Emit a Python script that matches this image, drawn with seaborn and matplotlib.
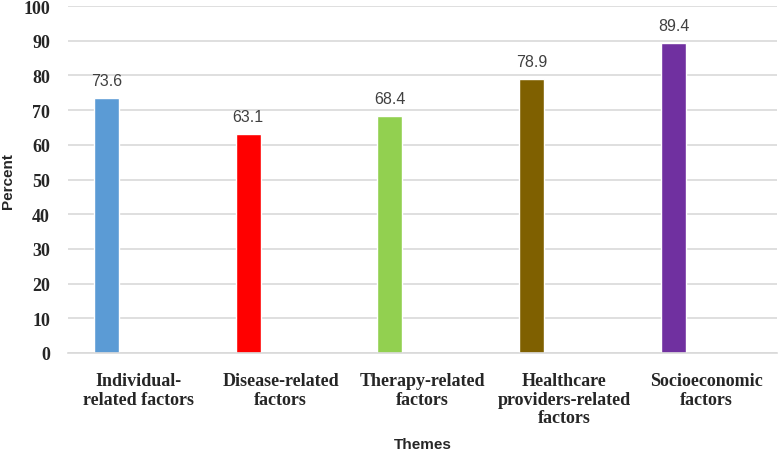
import numpy as np
import pandas as pd
import matplotlib
matplotlib.use("Agg")
import matplotlib.pyplot as plt
import seaborn as sns

categories = ["Individual-\nrelated factors", "Disease-related\nfactors", "Therapy-related\nfactors",
              "Healthcare\nproviders-related\nfactors", "Socioeconomic\nfactors"]
values = [73.6, 63.1, 68.4, 78.9, 89.4]
colors = ["#5B9BD5", "#FF0000", "#92D050", "#7F6000", "#7030A0"]
yticks = [0, 10, 20, 30, 40, 50, 60, 70, 80, 90, 100]

sns.set_theme(style="white")
fig = plt.figure(figsize=(7.78, 4.52), dpi=100)
ax = fig.add_axes([68/778, 1-354/452, (777-68)/778, (354-7)/452])

offset = -0.23
xpos = np.arange(len(categories)) + offset
df = pd.DataFrame({"x": xpos, "val": values, "cat": categories})
sns.barplot(data=df, x="x", y="val", hue="cat", palette=colors, native_scale=True,
            width=0.177, legend=False, ax=ax, saturation=1, zorder=3)

for xp, v in zip(xpos, values):
    ax.annotate(f"{v:.1f}", (xp, v), xytext=(0, 7), textcoords="offset points",
                ha="center", va="bottom", fontsize=11.5, color="#404040",
                family="Liberation Sans")

ax.set_xlim(-0.5, len(categories) - 0.5)
ax.set_ylim(0, 100)
ax.set_yticks(yticks)
ax.set_yticklabels([str(t) for t in yticks], family="Liberation Serif", fontweight="bold", fontsize=13)
ax.set_xticks(np.arange(len(categories)))
ax.set_xticklabels(categories, family="Liberation Serif", fontweight="bold", fontsize=13, linespacing=1.1)
ax.tick_params(axis="x", length=0, pad=14)
ax.tick_params(axis="y", length=0, pad=13)
ax.yaxis.grid(True, color="#D9D9D9", linewidth=1.2, zorder=0)
ax.set_axisbelow(True)
for s in ["top", "right", "left"]:
    ax.spines[s].set_visible(False)
ax.spines["bottom"].set_color("#D9D9D9")
ax.spines["bottom"].set_linewidth(1.2)
ax.spines["bottom"].set_zorder(4)

ax.set_xlabel("Themes", family="Liberation Sans", fontweight="bold", fontsize=11)
ax.set_ylabel("Percent", family="Liberation Sans", fontweight="bold", fontsize=11)
ax.xaxis.set_label_coords(0.5, (354 - 438) / 347)
ax.yaxis.label.set_verticalalignment("center")
ax.yaxis.set_label_coords((8 - 68) / 709, (354 - 181) / 347)

fig.savefig("out.png", dpi=100)
